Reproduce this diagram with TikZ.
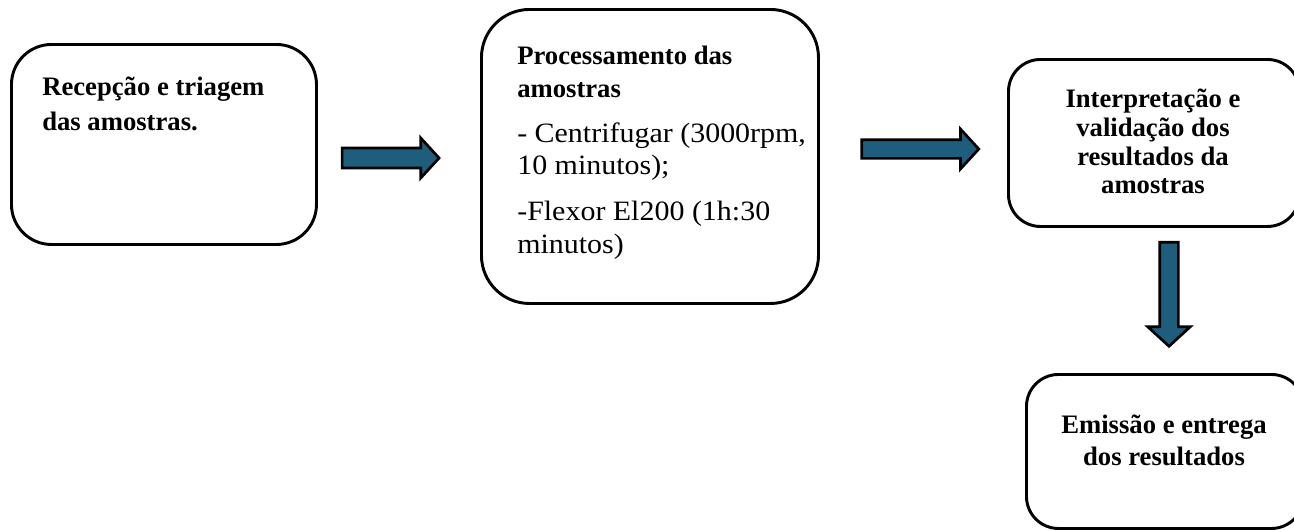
\documentclass[tikz,border=0pt]{standalone}
\usepackage{fontspec}
\setmainfont{Liberation Serif}
\newfontfamily\widefont[FakeStretch=1.07]{Liberation Serif}
\usetikzlibrary{shapes.arrows}
\definecolor{arrowfill}{RGB}{31,93,125}
\begin{document}
\begin{tikzpicture}[x=0.75pt,y=-0.75pt,
  box/.style={draw=black,line width=2.2pt,rounded corners=#1,inner sep=0pt,anchor=north west},
  box/.default=30pt,
  txt/.style={inner sep=0pt,font=\fontsize{20pt}{24pt}\selectfont},
  blockarrow/.style={single arrow,draw=black,fill=arrowfill,line width=2pt,inner sep=0pt,
    single arrow tip angle=95}
]
\useasboundingbox (0,0) rectangle (1294,529);
% boxes
\node[box=30pt,minimum width=305*0.75pt,minimum height=200*0.75pt] (b1) at (10,43) {};
\node[box=36pt,minimum width=337*0.75pt,minimum height=294*0.75pt] (b2) at (480,8) {};
\node[box=24pt,minimum width=291*0.75pt,minimum height=167*0.75pt] (b3) at (1007,58) {};
\node[box=24pt,minimum width=277*0.75pt,minimum height=154*0.75pt] (b4) at (1025,373) {};
% texts
\node[txt,anchor=north west,align=left,font=\fontsize{20pt}{26pt}\selectfont\bfseries] (t1) at (42,77)
  {Recepção e triagem\\das amostras.};
\node[txt,anchor=north west,align=left,font=\widefont\fontsize{21pt}{24.5pt}\selectfont] (t2) at (517,46)
  {{\rmfamily\fontsize{20pt}{24.5pt}\selectfont\bfseries Processamento das}\\
   {\rmfamily\fontsize{20pt}{24.5pt}\selectfont\bfseries amostras}\\[9pt]
   - Centrifugar (3000rpm,\\10 minutos);\\[10pt]
   -Flexor El200 (1h:30\\minutos)};
\node[txt,anchor=north,align=center,font=\fontsize{20pt}{21.5pt}\selectfont\bfseries] (t3) at (1153,89)
  {Interpretação e\\validação dos\\resultados da\\amostras};
\node[txt,anchor=north,align=center,font=\fontsize{20pt}{24pt}\selectfont\bfseries] (t4) at (1164,415)
  {Emissão e entrega\\dos resultados};
% block arrows
\node[blockarrow,minimum height=97*0.75pt,minimum width=40*0.75pt,inner ysep=6.5pt,
  single arrow head extend=7.5pt] (a1) at (386,158) {};
\node[blockarrow,minimum height=117*0.75pt,minimum width=39*0.75pt,inner ysep=6pt,
  single arrow head extend=8pt] (a2) at (916,149) {};
\node[blockarrow,minimum height=104*0.75pt,minimum width=40*0.75pt,inner sep=6pt,
  single arrow head extend=9pt,shape border rotate=270] (a3) at (1169,290) {};
\end{tikzpicture}
\end{document}
